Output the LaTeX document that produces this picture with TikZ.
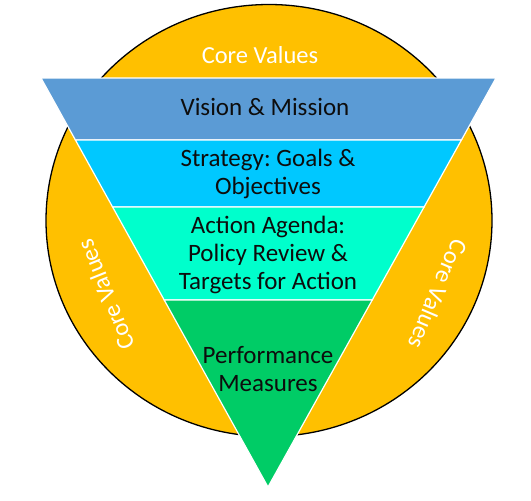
\documentclass[tikz,border=0pt]{standalone}
\usepackage{fontspec}
\setmainfont{Carlito}
\usetikzlibrary{calc}
\definecolor{coreorange}{HTML}{FFC000}
\definecolor{visionblue}{HTML}{5B9BD5}
\definecolor{stratblue}{HTML}{00C8FF}
\definecolor{actiongreen}{HTML}{00FFCC}
\definecolor{perfgreen}{HTML}{00CC66}
\frenchspacing
\begin{document}
\begin{tikzpicture}[x=1pt,y=-1pt,
  band/.style={draw=white,line width=1.2pt,line join=miter},
  bandtext/.style={font=\fontsize{25}{28}\selectfont,text=black!95,align=center,inner sep=0pt},
  coretext/.style={font=\fontsize{24.5}{28}\selectfont,text=white,inner sep=0pt}]
\useasboundingbox (0,0) rectangle (531,501);
% circle of core values
\filldraw[fill=coreorange,draw=black,line width=1.3pt] (269,220.5) ellipse [x radius=223pt,y radius=216pt];
% triangle corners
\coordinate (A) at (41,78);
\coordinate (B) at (496,78);
\coordinate (C) at (268,487);
\coordinate (L1) at ($(A)!0.1516!(C)$);
\coordinate (R1) at ($(B)!0.1516!(C)$);
\coordinate (L2) at ($(A)!0.3154!(C)$);
\coordinate (R2) at ($(B)!0.3154!(C)$);
\coordinate (L3) at ($(A)!0.5428!(C)$);
\coordinate (R3) at ($(B)!0.5428!(C)$);
% bands
\filldraw[band,fill=visionblue] (A) -- (B) -- (R1) -- (L1) -- cycle;
\filldraw[band,fill=stratblue] (L1) -- (R1) -- (R2) -- (L2) -- cycle;
\filldraw[band,fill=actiongreen] (L2) -- (R2) -- (R3) -- (L3) -- cycle;
\filldraw[band,fill=perfgreen] (L3) -- (R3) -- (C) -- cycle;
% texts
\node[coretext] (cvtop) at (260,55) {Core Values};
\node[coretext,rotate=112] (cvleft) at (106,295) {Core Values};
\node[coretext,rotate=-113] (cvright) at (438,294) {Core Values};
\node[bandtext] (vision) at (265,107) {Vision \& Mission};
\node[bandtext] (strategy) at (268,174) {Strategy: Goals \&\\Objectives};
\node[bandtext] (action) at (268,254.5) {Action Agenda:\\Policy Review \&\\Targets for Action};
\node[bandtext] (perf) at (268,369) {Performance\\Measures};
\end{tikzpicture}
\end{document}
